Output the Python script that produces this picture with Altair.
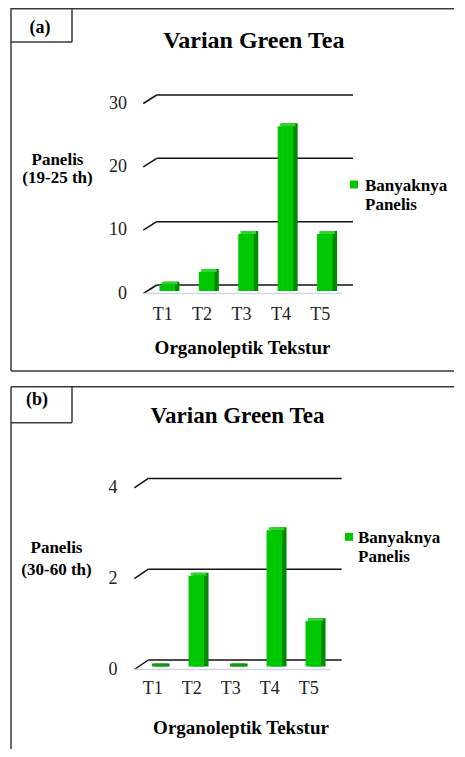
import altair as alt
import pandas as pd

# ---------------- data ----------------
categories = ["T1", "T2", "T3", "T4", "T5"]
values_a = [1, 3, 9, 26, 9]
values_b = [0, 2, 0, 3, 1]
ticks_a = [0, 10, 20, 30]
ticks_b = [0, 2, 4]
title_text = "Varian Green Tea"
panel_labels = ["(a)", "(b)"]
y_title_a = ["Panelis", "(19-25 th)"]
y_title_b = ["Panelis", "(30-60 th)"]
x_title = "Organoleptik Tekstur"
legend_lines = ["Banyaknya", "Panelis"]

# ---------------- style ----------------
FONT = "Liberation Serif"
FRONT = "#00c800"
SIDE = "#008a00"
TOPC = "#30d530"
GRID = "#111111"
BORDER = "#3a3a3a"
W, H = 449, 741
RIGHT = 446  # where the horizontal border lines end

one = pd.DataFrame({"k": [0]})


def deco_rule(x, x2, y, y2, color=BORDER, width=1.5):
    return alt.Chart(one).mark_rule(color=color, strokeWidth=width).encode(
        x=alt.value(x), x2=alt.value(x2), y=alt.value(y), y2=alt.value(y2))


def label(text, x, y, size, bold=True, align="center", baseline="alphabetic",
          line_height=None, color="black"):
    kw = dict(text=text, font=FONT, fontSize=size,
              fontWeight="bold" if bold else "normal",
              align=align, baseline=baseline, color=color)
    if line_height is not None:
        kw["lineHeight"] = line_height
    return alt.Chart(one).mark_text(**kw).encode(x=alt.value(x), y=alt.value(y))


def panel(p):
    xs = alt.Scale(domain=categories, range=p["xr"], paddingInner=0, paddingOuter=0)
    ys = alt.Scale(domain=[0, p["ymax"]], range=[p["y0"], p["ytop"]], nice=False)
    X = alt.X("cat:N", scale=xs, axis=None, sort=categories)

    def Y(field):
        return alt.Y(field + ":Q", scale=ys, axis=None)

    bars = pd.DataFrame({"cat": categories, "v": p["values"], "zero": [0] * len(categories)})
    ticks = pd.DataFrame({"t": p["ticks"]})
    floor = pd.DataFrame({"t": [0]})

    layers = []
    layers += p["borders"]
    layers.append(label(p["plabel"], p["plabel_xy"][0], p["plabel_xy"][1], 18, baseline="middle"))
    layers.append(label(title_text, p["title_xy"][0], p["title_xy"][1], p["title_size"]))
    layers.append(label(p["ytitle"], p["ytitle_xy"][0], p["ytitle_xy"][1], 17,
                        line_height=p["ytitle_lh"]))
    layers.append(label(x_title, p["xtitle_xy"][0], p["xtitle_xy"][1], 19))
    layers.append(label(legend_lines, p["leg_text_xy"][0], p["leg_text_xy"][1], 17,
                        align="left", line_height=19.5))
    layers.append(alt.Chart(one).mark_square(size=64, color=FRONT, opacity=1).encode(
        x=alt.value(p["leg_sq"][0]), y=alt.value(p["leg_sq"][1])))

    layers.append(alt.Chart(ticks).mark_rule(color=GRID, strokeWidth=1.5,
                                             yOffset=p["back_dy"]).encode(
        x=alt.value(p["grid_x"][0]), x2=alt.value(p["grid_x"][1]), y=Y("t")))
    layers.append(alt.Chart(ticks).mark_rule(color=GRID, strokeWidth=1.5,
                                             y2Offset=p["back_dy"]).encode(
        x=alt.value(p["diag_x"][0]), x2=alt.value(p["diag_x"][1]), y=Y("t"),
        y2=alt.Y2("t")))
    layers.append(alt.Chart(floor).mark_rule(color="#d4d4e6", strokeWidth=1.5).encode(
        x=alt.value(p["xr"][0]), x2=alt.value(p["xr"][1] + 2), y=Y("t")))
    layers.append(alt.Chart(ticks).mark_text(font=FONT, fontSize=18, align="right",
                                             baseline="middle", color="#222222").encode(
        x=alt.value(p["ylab_x"]), y=Y("t"), text="t:Q"))
    layers.append(alt.Chart(bars).mark_text(font=FONT, fontSize=18, align="center",
                                            baseline="middle", color="#222222").encode(
        x=X, y=alt.value(p["xlab_y"]), text="cat:N"))

    bw = 15.5
    bx = 4.5
    by = p["bar_dy"]
    dx, dy = 4.5, 3
    layers.append(alt.Chart(bars).mark_bar(size=bw, color=SIDE, xOffset=bx + dx,
                                           yOffset=by - dy, y2Offset=by).encode(
        x=X, y=Y("v"), y2=alt.Y2("zero")))
    layers.append(alt.Chart(bars).mark_bar(size=bw, xOffset=bx + dx / 2,
                                           yOffset=by - dy, y2Offset=by).encode(
        x=X, y=Y("v"), y2=alt.Y2("v"),
        color=alt.condition("datum.v == 0", alt.value("#119a11"), alt.value(TOPC))))
    layers.append(alt.Chart(bars).mark_bar(size=bw, color=FRONT, xOffset=bx,
                                           yOffset=by, y2Offset=by).encode(
        x=X, y=Y("v"), y2=alt.Y2("zero")))
    return layers


pa = dict(
    values=values_a, ticks=ticks_a, ymax=30,
    xr=[135.0, 332.0], y0=285.5, ytop=95.5,
    back_dy=-8.5, grid_x=[148.7, 345.0], diag_x=[135.3, 148.7],
    bar_dy=-2.5, ylab_x=119, xlab_y=307,
    plabel=panel_labels[0], plabel_xy=(32, 20),
    title_xy=(245.8, 39.7), title_size=24,
    ytitle=y_title_a, ytitle_xy=(49.5, 157), ytitle_lh=17.7,
    xtitle_xy=(234.5, 346),
    leg_sq=(346, 176.5), leg_text_xy=(357, 182.7),
    borders=[
        deco_rule(3, RIGHT, 0.75, 0.75), deco_rule(3, 3, 0, 363), deco_rule(3, RIGHT, 363, 363),
        deco_rule(64, 64, 0, 34), deco_rule(3, 64, 34, 34),
    ],
)

pb = dict(
    values=values_b, ticks=ticks_b, ymax=4,
    xr=[125.3, 320.3], y0=661.5, ytop=479.9,
    back_dy=-9.5, grid_x=[140.3, 333.7], diag_x=[126.3, 140.3],
    bar_dy=-3, ylab_x=109.5, xlab_y=681.3,
    plabel=panel_labels[1], plabel_xy=(29, 392),
    title_xy=(229.5, 414.7), title_size=23,
    ytitle=y_title_b, ytitle_xy=(48.5, 545), ytitle_lh=21.5,
    xtitle_xy=(233, 726),
    leg_sq=(341, 528.8), leg_text_xy=(350, 534.5),
    borders=[
        deco_rule(3, RIGHT, 378.7, 378.7), deco_rule(3, 3, 378.7, H),
        deco_rule(64, 64, 378.7, 414.7), deco_rule(3, 64, 414.7, 414.7),
    ],
)

chart = alt.layer(*(panel(pa) + panel(pb))).resolve_scale(
    x="independent", y="independent"
).properties(
    width=W, height=H, autosize=alt.AutoSizeParams(type="none"), padding=0
).configure_view(strokeWidth=0, stroke="transparent")

chart.save("out.html", embed_options={"renderer": "svg", "actions": False})
